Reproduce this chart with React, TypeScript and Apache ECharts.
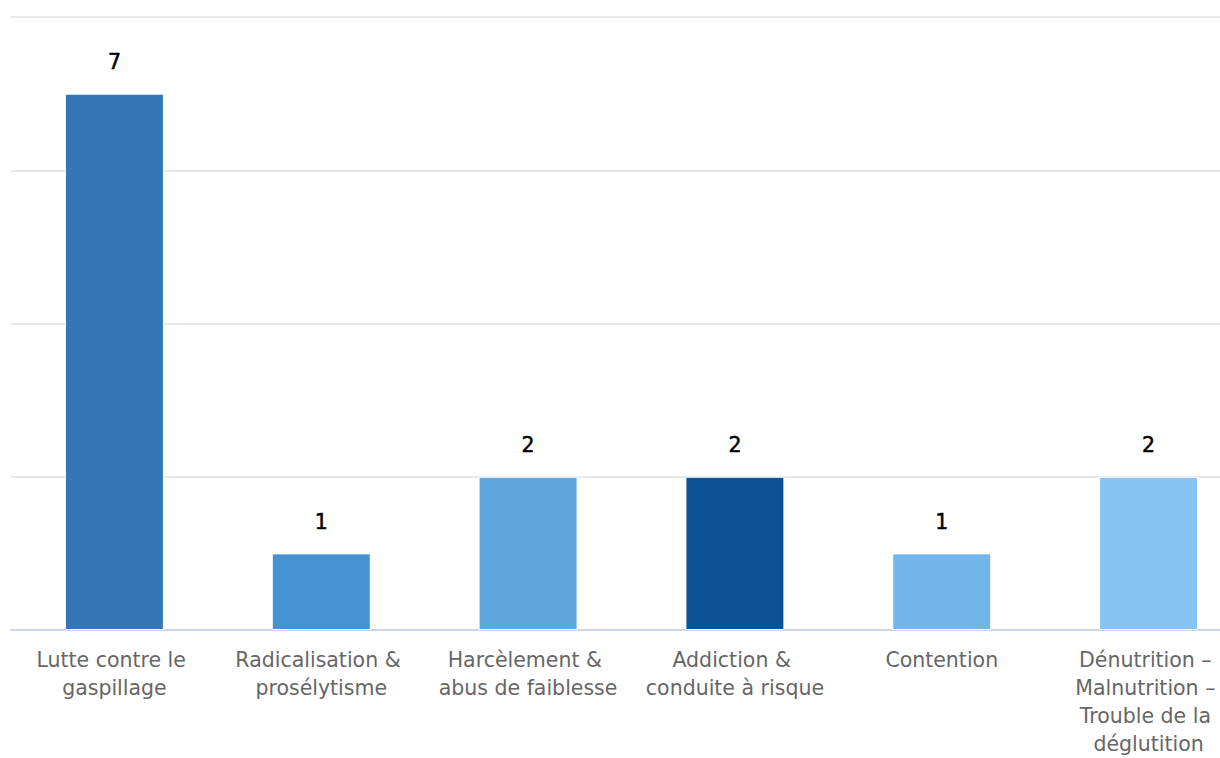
import React, { useEffect, useRef } from "react";
import * as echarts from "echarts";

const categories = [
  "Lutte contre le gaspillage",
  "Radicalisation & prosélytisme",
  "Harcèlement & abus de faiblesse",
  "Addiction & conduite à risque",
  "Contention",
  "Dénutrition – Malnutrition – Trouble de la déglutition",
];
const values = [7, 1, 2, 2, 1, 2];
const barColors = ["#3577b4", "#4492d2", "#5fa6df", "#0d5294", "#72b5e8", "#86c4f3"];

export default function App() {
  const ref = useRef<HTMLDivElement>(null);
  useEffect(() => {
    document.body.style.margin = "0";
    document.body.style.overflow = "hidden";
    const chart = echarts.init(ref.current!, undefined, { renderer: "svg" });
    chart.setOption({
      animation: false,
      backgroundColor: "#ffffff",
      grid: { left: 11, top: 17, bottom: 119, width: 1241, containLabel: false },
      xAxis: {
        type: "category",
        data: categories,
        axisLine: { lineStyle: { color: "#ccd6eb", width: 2 } },
        axisTick: { show: false },
        axisLabel: {
          interval: 0,
          color: "#666666",
          fontFamily: "DejaVu Sans",
          fontSize: 20.5,
          lineHeight: 28,
          margin: 16,
          width: 200,
          overflow: "break",
        },
      },
      yAxis: {
        type: "value",
        min: 0,
        max: 8,
        interval: 2,
        axisLabel: { show: false },
        axisLine: { show: false },
        axisTick: { show: false },
        splitLine: { lineStyle: { color: "#e8e8e8", width: 2 } },
      },
      series: [
        {
          type: "bar",
          barWidth: 99,
          data: values.map((v, i) => ({
            value: v,
            itemStyle: { color: barColors[i], borderColor: "#ffffff", borderWidth: 1 },
          })),
          label: {
            show: true,
            position: "top",
            distance: 21,
            color: "#000000",
            fontFamily: "DejaVu Sans",
            fontSize: 20.5,
            fontWeight: "normal",
            textBorderColor: "#000000",
            textBorderWidth: 0.5,
          },
        },
      ],
    });
    return () => chart.dispose();
  }, []);
  return (
    <div style={{ position: "fixed", left: 0, top: 0, width: 1220, height: 758, overflow: "hidden", background: "#fff" }}>
      <div ref={ref} style={{ width: 1260, height: 758 }} />
    </div>
  );
}
